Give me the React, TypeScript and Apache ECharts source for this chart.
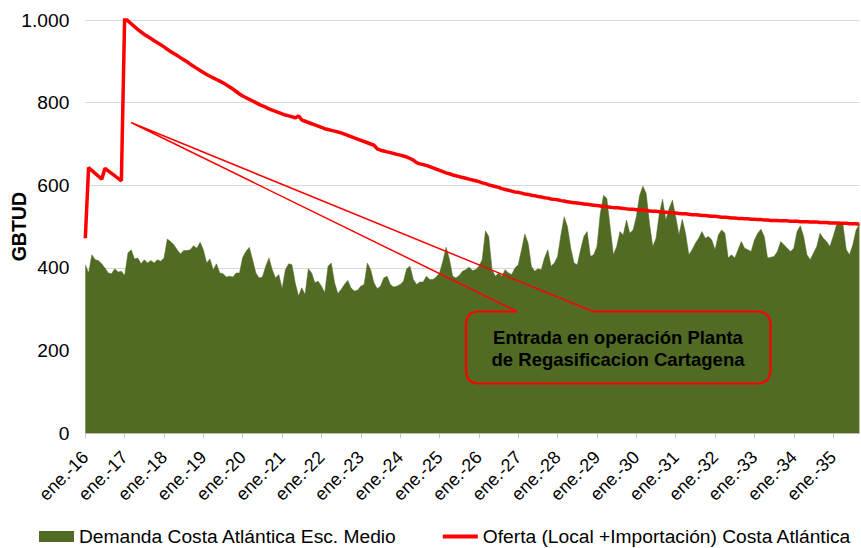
import React, { useEffect, useRef } from "react";
import * as echarts from "echarts";

const MONTHS = ["ene.", "feb.", "mar.", "abr.", "may.", "jun.", "jul.", "ago.", "sep.", "oct.", "nov.", "dic."];
const FIRST_YEAR = 2016;
const MONTH_COUNT = 237; // ene.-16 .. sep.-35

const categories: string[] = [];
for (let i = 0; i < MONTH_COUNT; i++) {
  const y = FIRST_YEAR + Math.floor(i / 12);
  categories.push(`${MONTHS[i % 12]}-${String(y).slice(2)}`);
}

const DEMAND_NAME = "Demanda Costa Atlántica Esc. Medio";
const SUPPLY_NAME = "Oferta (Local +Importación) Costa Atlántica";

// Demanda Costa Atlántica Esc. Medio (GBTUD), monthly from ene.-16
const demand = [
  408, 388, 432, 420, 418, 410, 400, 388, 386, 398, 390, 392,
  382, 436, 444, 422, 424, 410, 420, 412, 418, 412, 420, 416,
  424, 470, 464, 456, 444, 434, 442, 442, 444, 454, 448, 462,
  444, 412, 422, 396, 410, 388, 386, 378, 380, 378, 388, 388,
  426, 440, 450, 420, 388, 376, 378, 404, 424, 396, 376, 384,
  350, 396, 410, 408, 364, 332, 352, 336, 398, 388, 364, 368,
  356, 340, 404, 412, 364, 338, 348, 360, 370, 352, 344, 346,
  356, 360, 412, 396, 364, 350, 356, 376, 380, 360, 354, 356,
  360, 368, 398, 404, 372, 360, 366, 366, 380, 372, 372, 378,
  388, 416, 450, 422, 380, 376, 382, 392, 396, 402, 394, 396,
  404, 420, 490, 476, 396, 380, 388, 380, 396, 388, 384, 400,
  408, 444, 482, 460, 404, 392, 398, 396, 424, 444, 404, 412,
  428, 480, 524, 500, 448, 412, 408, 444, 476, 488, 428, 432,
  452, 532, 576, 568, 500, 432, 452, 488, 480, 516, 484, 492,
  524, 576, 598, 580, 508, 452, 472, 532, 566, 516, 544, 564,
  524, 480, 518, 484, 432, 444, 460, 472, 488, 472, 476, 468,
  444, 480, 492, 484, 424, 432, 424, 444, 464, 448, 444, 440,
  468, 484, 494, 476, 424, 426, 428, 440, 464, 456, 448, 440,
  448, 488, 502, 476, 432, 420, 436, 452, 484, 472, 464, 452,
  476, 504, 512, 504, 444, 432, 456, 492, 505,
];

// Oferta (Local + Importación) Costa Atlántica (GBTUD), monthly from ene.-16
const supply = [
  472, 643, 636, 629, 622, 615, 641, 635, 629, 623, 617, 611,
  1008, 998, 991, 984, 977, 971, 965, 960, 955, 950, 945, 940,
  935, 929, 924, 919, 914, 909, 904, 899, 893, 888, 883, 878,
  873, 868, 864, 860, 856, 852, 848, 843, 838, 833, 827, 821,
  816, 812, 808, 804, 800, 796, 792, 789, 785, 782, 779, 776,
  773, 770, 768, 766, 763, 768, 758, 755, 752, 749, 746, 743,
  740, 737, 735, 733, 731, 729, 727, 724, 721, 718, 715, 712,
  709, 706, 703, 700, 697, 688, 685, 683, 681, 679, 677, 675,
  673, 671, 668, 665, 661, 655, 652, 650, 648, 645, 642, 639,
  636, 633, 630, 628, 625, 623, 621, 619, 617, 615, 613, 611,
  609, 606, 604, 601, 599, 597, 595, 592, 590, 588, 586, 584,
  583, 581, 579, 578, 576, 575, 573, 572, 570, 569, 567, 566,
  565, 563, 562, 560, 559, 558, 557, 556, 555, 554, 553, 552,
  551, 550, 549, 548, 547, 546, 546, 545, 544, 543, 542, 542,
  541, 540, 540, 539, 538, 537, 537, 536, 535, 535, 534, 533,
  533, 532, 531, 531, 530, 529, 529, 528, 527, 527, 526, 525,
  525, 524, 523, 523, 522, 521, 521, 520, 520, 519, 519, 518,
  518, 517, 517, 516, 516, 515, 515, 515, 514, 514, 514, 513,
  513, 513, 512, 512, 512, 511, 511, 511, 510, 510, 510, 509,
  509, 509, 508, 508, 508, 507, 507, 507, 506,
];

const Y_MIN = 0;
const Y_MAX = 1000;
const Y_STEP = 200;

const CALLOUT_TEXT = "Entrada en operación Planta\nde Regasificacion Cartagena";

const GREEN = "#516b24";
const RED = "#ff0000";
const FONT = '"Liberation Sans", Arial, sans-serif';

const BOX_PATH =
  "M593 311.5 L757 311.5 Q770.5 311.5 770.5 325 L770.5 370 Q770.5 383.5 757 383.5 " +
  "L479 383.5 Q466 383.5 466 370 L466 325 Q466 311.5 479 311.5 L517 311.5";

let registered = false;
function ensureShapes() {
  if (registered) return;
  echarts.graphic.registerShape("calloutBox", echarts.graphic.extendPath(BOX_PATH, {}) as any);
  registered = true;
}

function fmtThousands(v: number): string {
  return String(v).replace(/\B(?=(\d{3})+(?!\d))/g, ".");
}

export default function App() {
  const ref = useRef<HTMLDivElement>(null);

  useEffect(() => {
    if (!ref.current) return;
    ensureShapes();
    const chart = echarts.init(ref.current, undefined, { renderer: "svg" });
    chart.setOption({
      animation: false,
      backgroundColor: "#ffffff",
      textStyle: { fontFamily: FONT, color: "#000" },
      grid: {
        left: 85.3,
        right: 1.6,
        top: 20,
        bottom: 114.7,
        containLabel: false,
        outerBoundsMode: "none",
      },
      legend: {
        left: 39,
        top: 527,
        width: 860,
        padding: 0,
        itemWidth: 35,
        itemHeight: 11,
        itemGap: 46,
        symbolKeepAspect: true,
        textStyle: { fontSize: 19.2, color: "#000", fontFamily: FONT },
        data: [
          { name: DEMAND_NAME, icon: "rect", itemStyle: { color: GREEN } },
          {
            name: SUPPLY_NAME,
            icon: "path://M0,0 L35,0 L35,4 L0,4 Z",
            itemStyle: { color: RED, borderWidth: 0 },
          },
        ],
      },
      xAxis: {
        type: "category",
        data: categories,
        boundaryGap: false,
        axisLine: { show: true, lineStyle: { color: "#c8c8c8", width: 1 } },
        axisTick: { show: true, interval: 11, length: 5, lineStyle: { color: "#c8c8c8" } },
        axisLabel: {
          interval: 11,
          rotate: 45,
          margin: 21,
          fontSize: 18,
          color: "#000",
          fontFamily: FONT,
          hideOverlap: false,
        },
        splitLine: { show: false },
      },
      yAxis: {
        type: "value",
        min: Y_MIN,
        max: Y_MAX,
        interval: Y_STEP,
        name: "GBTUD",
        nameLocation: "middle",
        nameGap: 56,
        nameRotate: 90,
        nameMoveOverlap: false,
        nameTextStyle: { fontSize: 19.5, fontWeight: "bold", color: "#000", fontFamily: FONT },
        axisLine: { show: false },
        axisTick: { show: false },
        axisLabel: {
          margin: 16,
          fontSize: 19.2,
          color: "#000",
          fontFamily: FONT,
          formatter: (v: number) => fmtThousands(v),
        },
        splitLine: { show: true, lineStyle: { color: "#d9d9d9", width: 1 } },
      },
      series: [
        {
          name: DEMAND_NAME,
          type: "line",
          data: demand,
          symbol: "none",
          showSymbol: false,
          lineStyle: { width: 0.5, color: GREEN },
          itemStyle: { color: GREEN },
          areaStyle: { color: GREEN, opacity: 1 },
          z: 2,
        },
        {
          name: SUPPLY_NAME,
          type: "line",
          data: supply,
          symbol: "none",
          showSymbol: false,
          lineStyle: { width: 3.5, color: RED },
          itemStyle: { color: RED },
          z: 3,
        },
      ],
      graphic: [
        {
          type: "polyline",
          z: 100,
          shape: { points: [[517, 311.5], [131, 122.5], [593, 311.5]] },
          style: { stroke: RED, lineWidth: 1.5, fill: "none" },
        },
        {
          type: "calloutBox",
          z: 100,
          x: 0,
          y: 0,
          style: { stroke: RED, lineWidth: 2.2, fill: "none" },
        },
        {
          type: "text",
          z: 101,
          x: 618,
          y: 348,
          style: {
            text: CALLOUT_TEXT,
            fill: "#000",
            font: `bold 18.5px ${FONT}`,
            align: "center",
            verticalAlign: "middle",
            lineHeight: 22,
          },
        },
      ],
    });
    return () => chart.dispose();
  }, []);

  return (
    <div
      ref={ref}
      style={{ position: "fixed", left: 0, top: 0, width: 861, height: 548 }}
    />
  );
}
